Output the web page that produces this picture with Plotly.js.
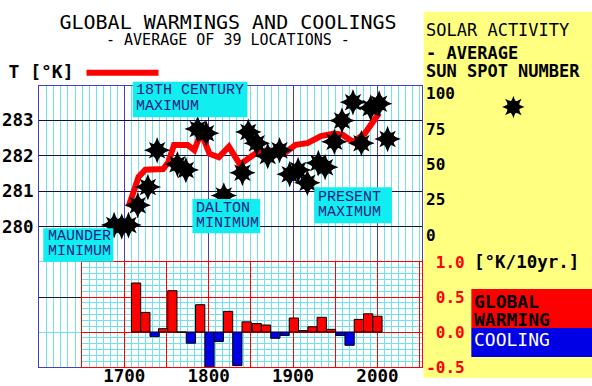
<!DOCTYPE html>
<html>
<head>
<meta charset="utf-8">
<script src="https://cdn.plot.ly/plotly-3.0.1.min.js"></script>
<style>html,body{margin:0;padding:0;background:#fff;}#chart{width:592px;height:386px;}</style>
</head>
<body>
<div id="chart"></div>
<script>
// ---- data ----
const tempYears = [1705,1711,1717,1725,1735,1746,1752,1759,1775,1783,1791,1801,1812,1824,1837,1848,1858,1872,1889,1903,1917,1933,1949,1959,1971,1985,2002];
const tempK     = [280.55,281.0,281.4,281.6,281.6,281.62,281.8,282.3,282.3,282.15,282.65,282.05,281.95,282.25,281.75,281.95,282.1,282.15,282.05,282.3,282.35,282.55,282.62,282.58,282.38,282.62,283.2];

const spotYears = [1688,1697,1705,1716,1728,1739,1763,1773,1787,1797,1818,1840,1847,1857,1870,1884,1896,1906,1917,1930,1938,1949,1958,1971,1981,1992,2002,2012];
const spotNum   = [7,6,7,21,34,60,50,46,75,72,28,44,73,65,56,60,43,46,37,51,48,66,81,94,65,90,93,68];

const rateYears = [1714,1725,1736,1746,1757,1768,1779,1790,1801,1812,1823,1834,1845,1857,1868,1879,1890,1901,1912,1923,1934,1945,1956,1967,1978,1989,2000];
const rateVals  = [0.70,0.28,-0.066,0.047,0.59,0,-0.16,0.39,-0.5,-0.135,0.295,-0.48,0.145,0.12,0.10,-0.09,-0.05,0.20,0.02,0.075,0.21,0.038,-0.05,-0.19,0.18,0.26,0.225];

const yearTicks = [1700,1800,1900,2000];
const tempTicks = [280,281,282,283];
const spotTicks = [0,25,50,75,100];
const rateTicks = [-0.5,0,0.5,1.0];
const rateTickText = ['-0.5','\u00a00.0','\u00a00.5','\u00a01.0'];

// ---- layout helpers ----
const L=39, R=421.7, T=86, B=367;
const xp = px => (px-L)/(R-L);
const yp = py => (B-py)/(B-T);

const BLUE='#4040c0', CYAN='#6ee2f0', RED='#ff0000', DBLUE='#0000e6', BOXC='#10eef0', BOXT='#1c1c80';
const MONO='DejaVu Sans Mono';

const traces = [
  {type:'bar', x:rateYears, y:rateVals, xaxis:'x2', yaxis:'y3', width:11,
   marker:{color:rateVals.map(v=>v>=0?RED:DBLUE), line:{color:'#000', width:1}},
   showlegend:false, hoverinfo:'skip'},
  {type:'scatter', mode:'markers', x:spotYears, y:spotNum, xaxis:'x', yaxis:'y2',
   marker:{symbol:'star-diamond', size:19, color:'#000'}, name:' ', legend:'legend2', showlegend:true},
  {type:'scatter', mode:'markers', x:spotYears, y:spotNum, xaxis:'x', yaxis:'y2',
   marker:{symbol:'star-square', size:15, color:'#000'}, name:' ', legend:'legend3', showlegend:true},
  {type:'scatter', mode:'lines', x:tempYears, y:tempK, xaxis:'x', yaxis:'y',
   line:{color:RED, width:6}, name:' ', legend:'legend', showlegend:true}
];

function boxText(lines, left, centers){
  return lines.map((t,i)=>({xref:'paper', yref:'paper', x:xp(left), y:yp(centers[i]), xanchor:'left', yanchor:'middle',
    text:t, showarrow:false, font:{family:'Liberation Mono', size:15, color:BOXT}}));
}
function rect(x0,x1,y0,y1,color,layer){
  return {type:'rect', xref:'paper', yref:'paper', x0:xp(x0), x1:xp(x1), y0:yp(y1), y1:yp(y0), fillcolor:color, line:{width:0}, layer:layer||'above'};
}
function txt(t, x, y, size, opts){
  return Object.assign({xref:'paper', yref:'paper', x:xp(x), y:yp(y), xanchor:'left', yanchor:'middle', text:t, showarrow:false,
    font:{family:MONO, size:size, color:'#000'}}, opts||{});
}

const annotations = [
  {xref:'paper', yref:'paper', x:xp(228), y:yp(40), xanchor:'center', yanchor:'middle', showarrow:false,
   text:'- AVERAGE OF 39 LOCATIONS -', font:{family:MONO, size:15, color:'#000'}},
  txt('SOLAR ACTIVITY', 424, 30, 17),
  txt('- AVERAGE', 424, 53, 17, {font:{family:MONO, size:17, color:'#000', weight:'bold'}}),
  txt('SUN SPOT NUMBER', 424, 70.5, 17, {font:{family:MONO, size:17, color:'#000', weight:'bold'}}),
  txt('[°K/10yr.]', 472, 262, 17.5, {font:{family:MONO, size:17.5, color:'#000', weight:'bold'}}),
  txt('GLOBAL', 472, 301.5, 18, {font:{family:MONO, size:18, color:'#000', weight:'bold'}}),
  txt('WARMING', 472, 319.5, 18, {font:{family:MONO, size:18, color:'#000', weight:'bold'}}),
  txt('COOLING', 472, 339.5, 18, {font:{family:MONO, size:18, color:'#fff'}}),
  ...boxText(['18TH CENTURY','MAXIMUM'], 133.5, [90.5,106.7]),
  ...boxText(['MAUNDER','MINIMUM'], 45.5, [237,251.7]),
  ...boxText(['DALTON','MINIMUM'], 194, [208.3,223.3]),
  ...boxText(['PRESENT','MAXIMUM'], 316, [197.7,212.7])
];

const shapes = [
  rect(423.3, 600, 11.7, 378, '#ffff80', 'below'),
  rect(471, 600, 289, 328, RED, 'above'),
  rect(471, 600, 328, 357, DBLUE, 'above'),
  rect(132.7, 247.3, 81.7, 117.3, BOXC),
  rect(43.3, 113.3, 228.3, 261.7, BOXC),
  rect(192.3, 260, 199, 233.3, BOXC),
  rect(314.3, 391.7, 187.3, 223.3, BOXC)
];

const layout = {
  width:592, height:386,
  margin:{l:L, r:592-R, t:T, b:386-B, pad:0, autoexpand:false},
  paper_bgcolor:'#fff', plot_bgcolor:'#fff',
  font:{family:MONO, color:'#000'},
  showlegend:true,
  title:{text:'GLOBAL WARMINGS AND COOLINGS', xref:'container', yref:'container', x:228/592, xanchor:'center',
         y:1-22/386, yanchor:'middle', font:{family:MONO, size:20, color:'#000'}},
  xaxis:{domain:[0,1], range:[1599,2052.8], anchor:'y', tickmode:'array', tickvals:yearTicks, ticks:'',
         ticklabelstandoff:-7,
         showgrid:true, gridcolor:BLUE, gridwidth:1,
         minor:{tickmode:'linear', tick0:1600, dtick:100/12, showgrid:true, gridcolor:CYAN, gridwidth:1, ticks:''},
         showline:true, mirror:true, linecolor:BLUE, linewidth:1, zeroline:false,
         tickfont:{family:MONO, size:17.5, weight:'bold', color:'#000'}},
  yaxis:{domain:[0,1], range:[276.04,283.96], anchor:'x', tickmode:'array', tickvals:[278].concat(tempTicks),
         ticktext:[''].concat(tempTicks.map(String)), ticks:'', ticklabelstandoff:1,
         showgrid:true, gridcolor:'#101040', gridwidth:1,
         minor:{tickmode:'array', tickvals:[277,279], showgrid:true, gridcolor:CYAN, ticks:''},
         showline:true, mirror:true, linecolor:BLUE, zeroline:false,
         tickfont:{family:MONO, size:17.5, weight:'bold', color:'#000'}},
  yaxis2:{overlaying:'y', side:'right', anchor:'x', range:[-93.5,105.5], tickmode:'array', tickvals:spotTicks,
          ticks:'', showgrid:false, zeroline:false, showline:false, ticklabelstandoff:3,
          tickfont:{family:MONO, size:16, weight:'bold', color:'#000'}},
  xaxis2:{domain:[xp(82),1], range:[1650,2052.8], anchor:'y3', tickmode:'linear', tick0:1650, dtick:50,
          showticklabels:false, ticks:'', showgrid:true, gridcolor:RED, gridwidth:1,
          minor:{tickmode:'linear', tick0:1650, dtick:50/6, showgrid:true, gridcolor:CYAN, ticks:''},
          showline:true, mirror:true, linecolor:RED, zeroline:false},
  yaxis3:{domain:[0,yp(262)], range:[-0.5,1.0], anchor:'x2', side:'right', tickmode:'array', tickvals:rateTicks,
          ticktext:rateTickText, ticks:'', showgrid:true, gridcolor:RED, gridwidth:1,
          minor:{tickmode:'linear', tick0:-0.5, dtick:0.5/6, showgrid:true, gridcolor:CYAN, ticks:''},
          showline:true, mirror:true, linecolor:RED, zeroline:false,
          tickfont:{family:MONO, size:16, weight:'bold', color:RED}},
  legend:{x:xp(6.5), y:yp(73), xanchor:'left', yanchor:'middle', bgcolor:'rgba(0,0,0,0)', borderwidth:0,
          itemwidth:72, font:{family:MONO, size:18, color:'#000'},
          title:{text:'T [°K]', side:'left', font:{family:MONO, size:18, weight:'bold', color:'#000'}}},
  legend2:{x:xp(493), y:yp(107), xanchor:'left', yanchor:'middle', bgcolor:'rgba(0,0,0,0)', borderwidth:0,
           font:{family:MONO, size:12}},
  legend3:{x:xp(493), y:yp(107), xanchor:'left', yanchor:'middle', bgcolor:'rgba(0,0,0,0)', borderwidth:0,
           font:{family:MONO, size:12}},
  bargap:0,
  annotations:annotations,
  shapes:shapes
};

Plotly.newPlot('chart', traces, layout, {staticPlot:true, displayModeBar:false});
</script>
</body>
</html>
